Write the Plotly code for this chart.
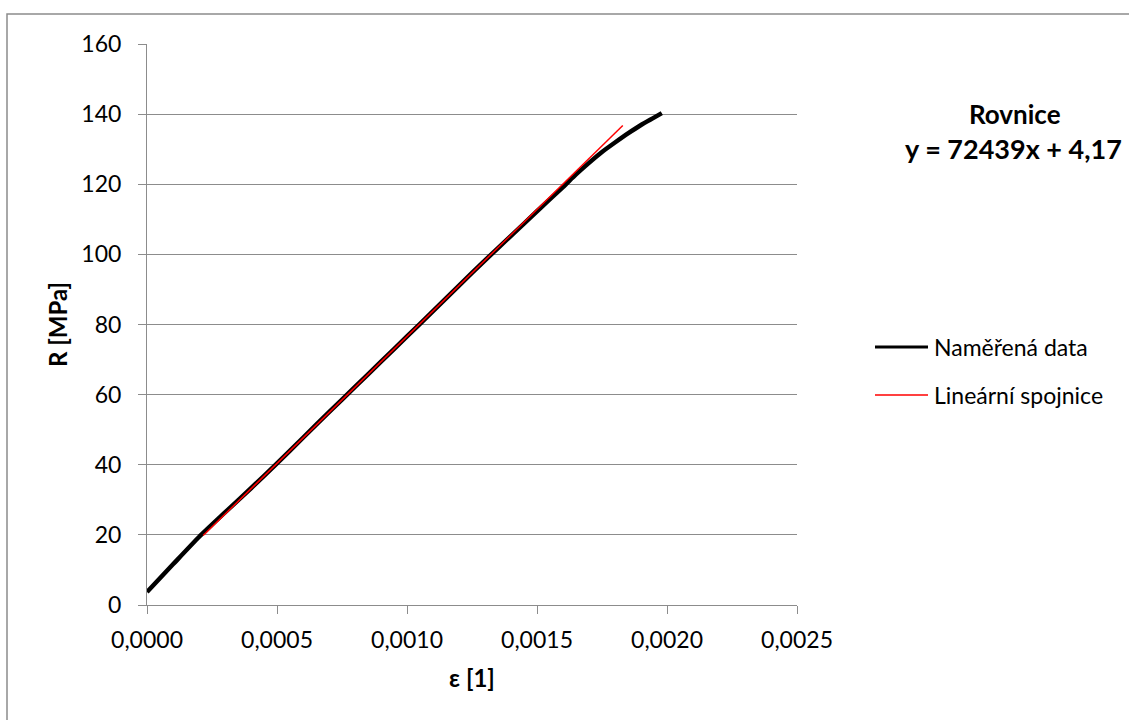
import plotly.graph_objects as go

# Measured stress-strain record
strain = [0.0, 0.0001, 0.0002, 0.0003, 0.0004, 0.0005, 0.0006, 0.0007, 0.0008,
          0.0009, 0.0010, 0.0011, 0.0012, 0.0013, 0.0014, 0.0015, 0.0016,
          0.00165, 0.0017, 0.00175, 0.0018, 0.00185, 0.0019, 0.00195, 0.00198]
stress = [3.7, 11.6, 19.4, 26.4, 33.3, 40.4, 47.7, 55.0, 62.2,
          69.4, 76.6, 83.8, 91.1, 98.3, 105.3, 112.3, 119.2,
          122.8, 126.1, 129.2, 131.9, 134.5, 136.9, 139.0, 140.3]

# Linear fit over the elastic part
fit_slope = 72439
fit_intercept = 4.17
fit_strain = [0.000216, 0.00183]
fit_stress = [fit_slope * e + fit_intercept for e in fit_strain]

x_ticks = [0.0, 0.0005, 0.0010, 0.0015, 0.0020, 0.0025]
y_ticks = [0, 20, 40, 60, 80, 100, 120, 140, 160]

series_names = ["Naměřená data", "Lineární spojnice"]
series_colors = ["black", "#ff0000"]

FONT = "Lato, 'Open Sans', sans-serif"
GRID = "#8c8c8c"

W, H = 1129, 720
L, R, T, B = 147, 332, 44, 115


def px_x(px):
    return (px - L) / (W - L - R)


def px_y(py):
    return 1 - (py - T) / (H - T - B)


fig = go.Figure()
fig.add_trace(go.Scatter(
    x=strain, y=stress, mode="lines", name=series_names[0],
    line=dict(color=series_colors[0], width=4.5, shape="spline", smoothing=0.6),
    showlegend=False,
))
fig.add_trace(go.Scatter(
    x=fit_strain, y=fit_stress, mode="lines", name=series_names[1],
    line=dict(color=series_colors[1], width=1.5), showlegend=False,
))

fig.update_layout(
    width=W, height=H,
    margin=dict(l=L, r=R, t=T, b=B),
    paper_bgcolor="white", plot_bgcolor="white",
    separators=", ",
    font=dict(family=FONT, size=23, color="black"),
    xaxis=dict(
        range=[0, 0.0025], tickvals=x_ticks, tickformat=".4f",
        showgrid=False, zeroline=False, showline=True, linecolor=GRID,
        linewidth=1, ticks="outside", ticklen=8, tickcolor=GRID,
        ticklabelstandoff=6,
        title=dict(text="<b>ε [1]</b>", font=dict(size=24), standoff=18),
    ),
    yaxis=dict(
        range=[0, 160], tickvals=y_ticks,
        showgrid=True, gridcolor=GRID, gridwidth=1, zeroline=False,
        showline=True, linecolor=GRID, linewidth=1,
        ticks="outside", ticklen=8, tickcolor=GRID,
        ticklabelstandoff=12,
        title=dict(text="<b>R [MPa]</b>", font=dict(size=24), standoff=6),
    ),
)

# legend entries: line sample plus label
legend_rows = [347, 395]
legend_widths = [3, 1.5]
for name, color, lw, row in zip(series_names, series_colors, legend_widths, legend_rows):
    fig.add_shape(type="line", xref="paper", yref="paper",
                  x0=px_x(875), x1=px_x(928), y0=px_y(row), y1=px_y(row),
                  line=dict(color=color, width=lw))
    fig.add_annotation(xref="paper", yref="paper", x=px_x(932), y=px_y(row),
                       text=name, showarrow=False, xanchor="left",
                       yanchor="middle", font=dict(size=23, family=FONT))

# outer chart frame
fig.add_shape(type="rect", xref="paper", yref="paper",
              x0=px_x(7), x1=px_x(1140), y0=px_y(14), y1=px_y(730),
              line=dict(color="#8c8c8c", width=1.5), fillcolor="rgba(0,0,0,0)",
              layer="below")

# fitted equation box
fig.add_annotation(
    xref="paper", yref="paper", x=px_x(1015), y=px_y(114),
    text="<b>Rovnice</b>", showarrow=False,
    xanchor="center", yanchor="middle", font=dict(size=26, family=FONT),
)
fig.add_annotation(
    xref="paper", yref="paper", x=px_x(1013), y=px_y(148),
    text=f"<b>y = {fit_slope}x + {str(fit_intercept).replace('.', ',')}</b>",
    showarrow=False, xanchor="center", yanchor="middle",
    font=dict(size=27, family=FONT),
)

fig.write_html("out.html")
